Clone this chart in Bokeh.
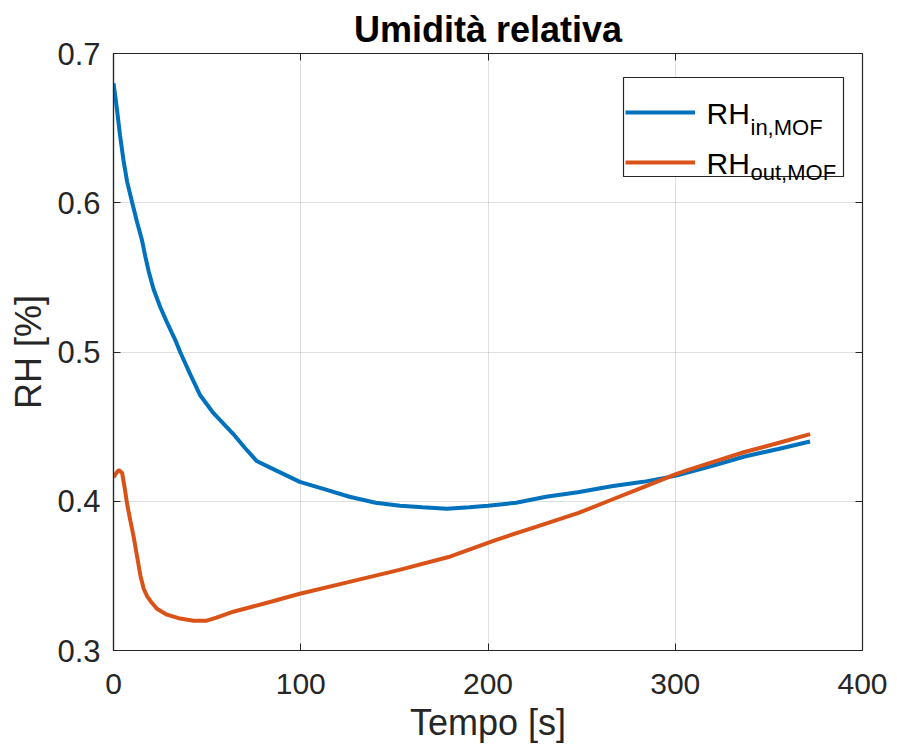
from bokeh.plotting import figure
from bokeh.models import (Range1d, LinearAxis, Legend, LegendItem, Label, FixedTicker,
                          BoxAnnotation)
from bokeh.embed import file_html
from bokeh.resources import INLINE

# ---- data ----
t_in = [0, 1, 2, 3.5, 5.5, 7.3, 10, 12.6, 15.2, 17, 18.8, 21.4, 25, 28.5, 33, 35.6,
        41, 46.3, 53.4, 64, 70, 76.4, 87, 99.5, 113, 126, 140, 153, 165, 178, 190,
        200, 215, 231, 248, 266, 283, 300, 318, 337, 355, 372]
rh_in = [0.680, 0.671, 0.661, 0.645, 0.627, 0.614, 0.600, 0.587, 0.575, 0.564, 0.554,
         0.542, 0.530, 0.520, 0.508, 0.500, 0.485, 0.471, 0.459, 0.445, 0.436, 0.427,
         0.4205, 0.413, 0.408, 0.403, 0.399, 0.397, 0.396, 0.395, 0.396, 0.397, 0.399,
         0.403, 0.406, 0.410, 0.413, 0.417, 0.423, 0.430, 0.435, 0.440]

t_out = [0, 1, 2.8, 4.6, 5.9, 7.3, 9, 10.8, 12.6, 14.4, 15.3, 16.1, 17.9, 19.7, 23.2,
         28.5, 35.6, 42.7, 49.8, 55, 64, 73, 85, 99.5, 126, 152.7, 180, 204, 226, 248,
         266, 284, 300, 307, 322, 337, 355, 372]
rh_out = [0.416, 0.418, 0.421, 0.419, 0.4095, 0.398, 0.387, 0.376, 0.363, 0.350, 0.3455,
          0.3415, 0.3365, 0.3332, 0.328, 0.324, 0.3214, 0.320, 0.320, 0.322, 0.326,
          0.329, 0.333, 0.338, 0.346, 0.354, 0.363, 0.374, 0.383, 0.392, 0.401, 0.410,
          0.418, 0.421, 0.427, 0.433, 0.439, 0.445]

x_ticks = [0, 100, 200, 300, 400]
y_ticks = [0.3, 0.4, 0.5, 0.6, 0.7]

title_text = "Umidità relativa"
x_label = "Tempo [s]"
y_label = "RH [%]"
legend_main = ["RH", "RH"]
legend_sub = ["in,MOF", "out,MOF"]

FONT = "Liberation Sans"
AX = "#262626"
BLUE = "#0072BD"
ORANGE = "#D95319"

p = figure(width=889, height=745, output_backend="svg", toolbar_location=None,
           x_range=Range1d(0, 400), y_range=Range1d(0.3, 0.7),
           min_border_left=113, min_border_right=27, min_border_top=53,
           min_border_bottom=95)
p.background_fill_color = "white"
p.border_fill_color = "white"
p.outline_line_color = AX
p.outline_line_width = 1.2

p.title.text = title_text
p.title.align = "center"
p.title.text_font = FONT
p.title.text_font_size = "36px"
p.title.text_font_style = "bold"
p.title.text_color = "#000000"
p.title.text_line_height = 1.0
p.title.standoff = 7

for ax in (p.xaxis[0], p.yaxis[0]):
    ax.major_label_text_font = FONT
    ax.major_label_text_color = AX
    ax.major_label_text_line_height = 1.0
    ax.axis_label_text_font = FONT
    ax.axis_label_text_font_size = "36px"
    ax.axis_label_text_font_style = "normal"
    ax.axis_label_text_color = AX
    ax.axis_label_text_line_height = 1.0
    ax.axis_line_color = AX
    ax.axis_line_width = 1.2
    ax.major_tick_line_color = AX
    ax.major_tick_in = 7
    ax.major_tick_out = 0
    ax.minor_tick_line_color = None

p.xaxis[0].major_label_text_font_size = "30px"
p.yaxis[0].major_label_text_font_size = "31px"
p.xaxis[0].ticker = FixedTicker(ticks=x_ticks)
p.yaxis[0].ticker = FixedTicker(ticks=y_ticks)
p.xaxis[0].axis_label = x_label
p.yaxis[0].axis_label = y_label
p.xaxis[0].major_label_standoff = 23
p.yaxis[0].major_label_standoff = 13
p.xaxis[0].axis_label_standoff = 5
p.yaxis[0].axis_label_standoff = 5

# top and right axes (box with inner ticks)
top = LinearAxis(ticker=FixedTicker(ticks=x_ticks), major_label_text_font_size="0px",
                 axis_line_color=AX, major_tick_line_color=AX, major_tick_in=7,
                 major_tick_out=0, minor_tick_line_color=None, major_label_standoff=0)
right = LinearAxis(ticker=FixedTicker(ticks=y_ticks), major_label_text_font_size="0px",
                   axis_line_color=AX, major_tick_line_color=AX, major_tick_in=7,
                   major_tick_out=0, minor_tick_line_color=None, major_label_standoff=0)
p.add_layout(top, "above")
p.add_layout(right, "right")

p.xgrid.ticker = FixedTicker(ticks=x_ticks)
p.ygrid.ticker = FixedTicker(ticks=y_ticks)
p.grid.grid_line_color = "#262626"
p.grid.grid_line_alpha = 0.15
p.grid.grid_line_width = 1

r_in = p.line(t_in, rh_in, line_color=BLUE, line_width=4)
r_out = p.line(t_out, rh_out, line_color=ORANGE, line_width=4)

# legend frame
box = BoxAnnotation(left=510, right=730, bottom=474, top=573,
                    left_units="screen", right_units="screen",
                    bottom_units="screen", top_units="screen",
                    fill_color="white", fill_alpha=1.0,
                    line_color=AX, line_width=1.2, line_alpha=1.0)
p.add_layout(box)

legend = Legend(items=[LegendItem(label=" ", renderers=[r_in]),
                       LegendItem(label=" ", renderers=[r_out])],
                location=(512, 468), orientation="vertical")
legend.label_text_font = FONT
legend.label_text_font_size = "30px"
legend.glyph_width = 70
legend.glyph_height = 40
legend.label_height = 40
legend.label_width = 135
legend.label_standoff = 5
legend.spacing = 10
legend.padding = 5
legend.margin = 0
legend.border_line_color = None
legend.background_fill_alpha = 0
p.add_layout(legend, "center")

main_y = [537, 487]
sub_y = [523, 478]
for i in range(2):
    p.add_layout(Label(x=593, y=main_y[i], x_units="screen", y_units="screen",
                       text=legend_main[i], text_font=FONT, text_font_size="30px",
                       text_color="#000000", text_baseline="alphabetic",
                       level="overlay"))
    p.add_layout(Label(x=637, y=sub_y[i], x_units="screen", y_units="screen",
                       text=legend_sub[i], text_font=FONT, text_font_size="22px",
                       text_color="#000000", text_baseline="alphabetic",
                       level="overlay"))

open("out.html", "w").write(file_html(p, INLINE))
